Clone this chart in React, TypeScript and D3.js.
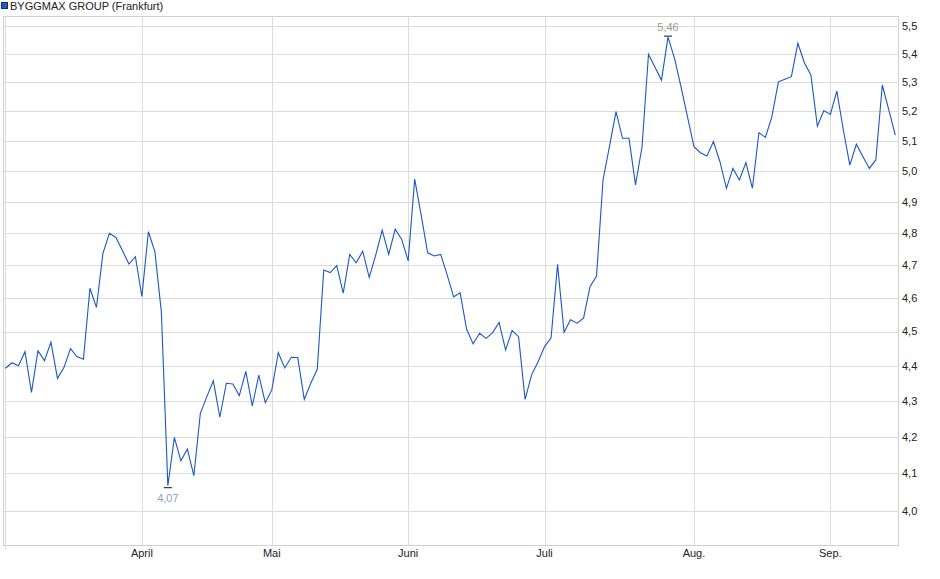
import * as d3 from "d3";

const seriesName = "BYGGMAX GROUP (Frankfurt)";

// daily closes, one per trading day (März bis Mitte Sep.)
const closes = [
	4.393, 4.409, 4.4, 4.441, 4.324, 4.444, 4.415, 4.469, 4.364, 4.395,
	4.45, 4.427, 4.419, 4.63, 4.572, 4.737, 4.8, 4.787, 4.746, 4.704,
	4.727, 4.605, 4.805, 4.743, 4.558, 4.067, 4.198, 4.134, 4.166, 4.094,
	4.265, 4.312, 4.357, 4.254, 4.35, 4.348, 4.315, 4.384, 4.286, 4.373,
	4.295, 4.331, 4.438, 4.394, 4.425, 4.424, 4.304, 4.35, 4.39, 4.686,
	4.678, 4.699, 4.615, 4.734, 4.708, 4.744, 4.663, 4.732, 4.81, 4.734,
	4.813, 4.781, 4.714, 4.974, 4.858, 4.739, 4.729, 4.734, 4.671, 4.604,
	4.616, 4.507, 4.464, 4.495, 4.48, 4.497, 4.527, 4.446, 4.503, 4.485,
	4.304, 4.374, 4.412, 4.456, 4.482, 4.703, 4.498, 4.535, 4.525, 4.54,
	4.635, 4.667, 4.971, 5.083, 5.199, 5.109, 5.109, 4.955, 5.08, 5.399,
	5.353, 5.308, 5.46, 5.385, 5.285, 5.182, 5.081, 5.061, 5.05, 5.098,
	5.031, 4.944, 5.009, 4.971, 5.028, 4.944, 5.128, 5.112, 5.182, 5.302,
	5.311, 5.32, 5.438, 5.369, 5.326, 5.15, 5.203, 5.19, 5.27, 5.137,
	5.02, 5.089, 5.048, 5.009, 5.037, 5.291, 5.205, 5.12,
];

// index of the first trading day of each month
const monthStarts = [21, 41, 62, 83, 106, 127];
const monthLabels = ["April", "Mai", "Juni", "Juli", "Aug.", "Sep."];

const yTicks = [4.0, 4.1, 4.2, 4.3, 4.4, 4.5, 4.6, 4.7, 4.8, 4.9, 5.0, 5.1, 5.2, 5.3, 5.4, 5.5];

const width = 940;
const height = 579;
const frame = { left: 3, top: 16, right: 898.5, bottom: 545.5 };
const font = "'Liberation Sans', Arial, sans-serif";

const de = d3.formatLocale({ decimal: ",", thousands: ".", grouping: [3], currency: ["", " €"] });
const fmtTick = de.format(".1f");
const fmtExtreme = de.format(".2f");

export default function App() {
	const x = d3.scaleLinear().domain([0, closes.length - 1]).range([5.5, 895.3]);
	const y = d3.scaleLog().domain([4.0, 5.5]).range([511, 26]);

	const line = d3
		.line<number>()
		.x((_, i) => x(i))
		.y((d) => y(d));

	const hi = d3.maxIndex(closes);
	const lo = d3.minIndex(closes);

	return (
		<svg
			width={width}
			height={height}
			style={{ position: "absolute", left: 0, top: 0, display: "block", background: "#fff" }}
			fontFamily={font}
		>
			{/* legend */}
			<rect x={1.5} y={2.5} width={6} height={6} fill="#1f5bbf" stroke="#0e2f6e" strokeWidth={1} />
			<text x={10} y={9.5} fontSize={11} fill="#222">
				{seriesName}
			</text>

			{/* grid */}
			<g stroke="#dcdcdc" strokeWidth={1} shapeRendering="crispEdges">
				{yTicks.map((t) => (
					<line key={t} x1={frame.left} x2={frame.right} y1={Math.round(y(t)) + 0.5} y2={Math.round(y(t)) + 0.5} />
				))}
				<line x1={x(0)} x2={x(0)} y1={frame.top} y2={frame.bottom + 3} />
				{monthStarts.map((m) => (
					<line key={m} x1={Math.round(x(m)) + 0.5} x2={Math.round(x(m)) + 0.5} y1={frame.top} y2={frame.bottom} />
				))}
			</g>
			<rect
				x={frame.left}
				y={frame.top}
				width={frame.right - frame.left}
				height={frame.bottom - frame.top}
				fill="none"
				stroke="#d0d0d0"
				shapeRendering="crispEdges"
			/>

			{/* right axis */}
			{yTicks.map((t) => (
				<text key={t} x={902} y={y(t)} dy="0.35em" fontSize={11} fill="#222">
					{fmtTick(t)}
				</text>
			))}

			{/* month axis */}
			{monthStarts.map((m, i) => (
				<text key={m} x={x(m)} y={557} textAnchor="middle" fontSize={11} fill="#222">
					{monthLabels[i]}
				</text>
			))}

			<path d={line(closes) ?? ""} fill="none" stroke="#1a58c4" strokeWidth={1.1} />

			{/* high / low markers */}
			<line x1={x(hi) - 4} x2={x(hi) + 4} y1={y(closes[hi]) - 1} y2={y(closes[hi]) - 1} stroke="#111" />
			<text x={x(hi)} y={y(closes[hi]) - 6} textAnchor="middle" fontSize={11} fill="#a39689">
				{fmtExtreme(closes[hi])}
			</text>
			<line x1={x(lo) - 4} x2={x(lo) + 4} y1={y(closes[lo]) + 2} y2={y(closes[lo]) + 2} stroke="#111" />
			<text x={x(lo)} y={y(closes[lo]) + 16} textAnchor="middle" fontSize={11} fill="#8fa2bd">
				{fmtExtreme(closes[lo])}
			</text>
		</svg>
	);
}
